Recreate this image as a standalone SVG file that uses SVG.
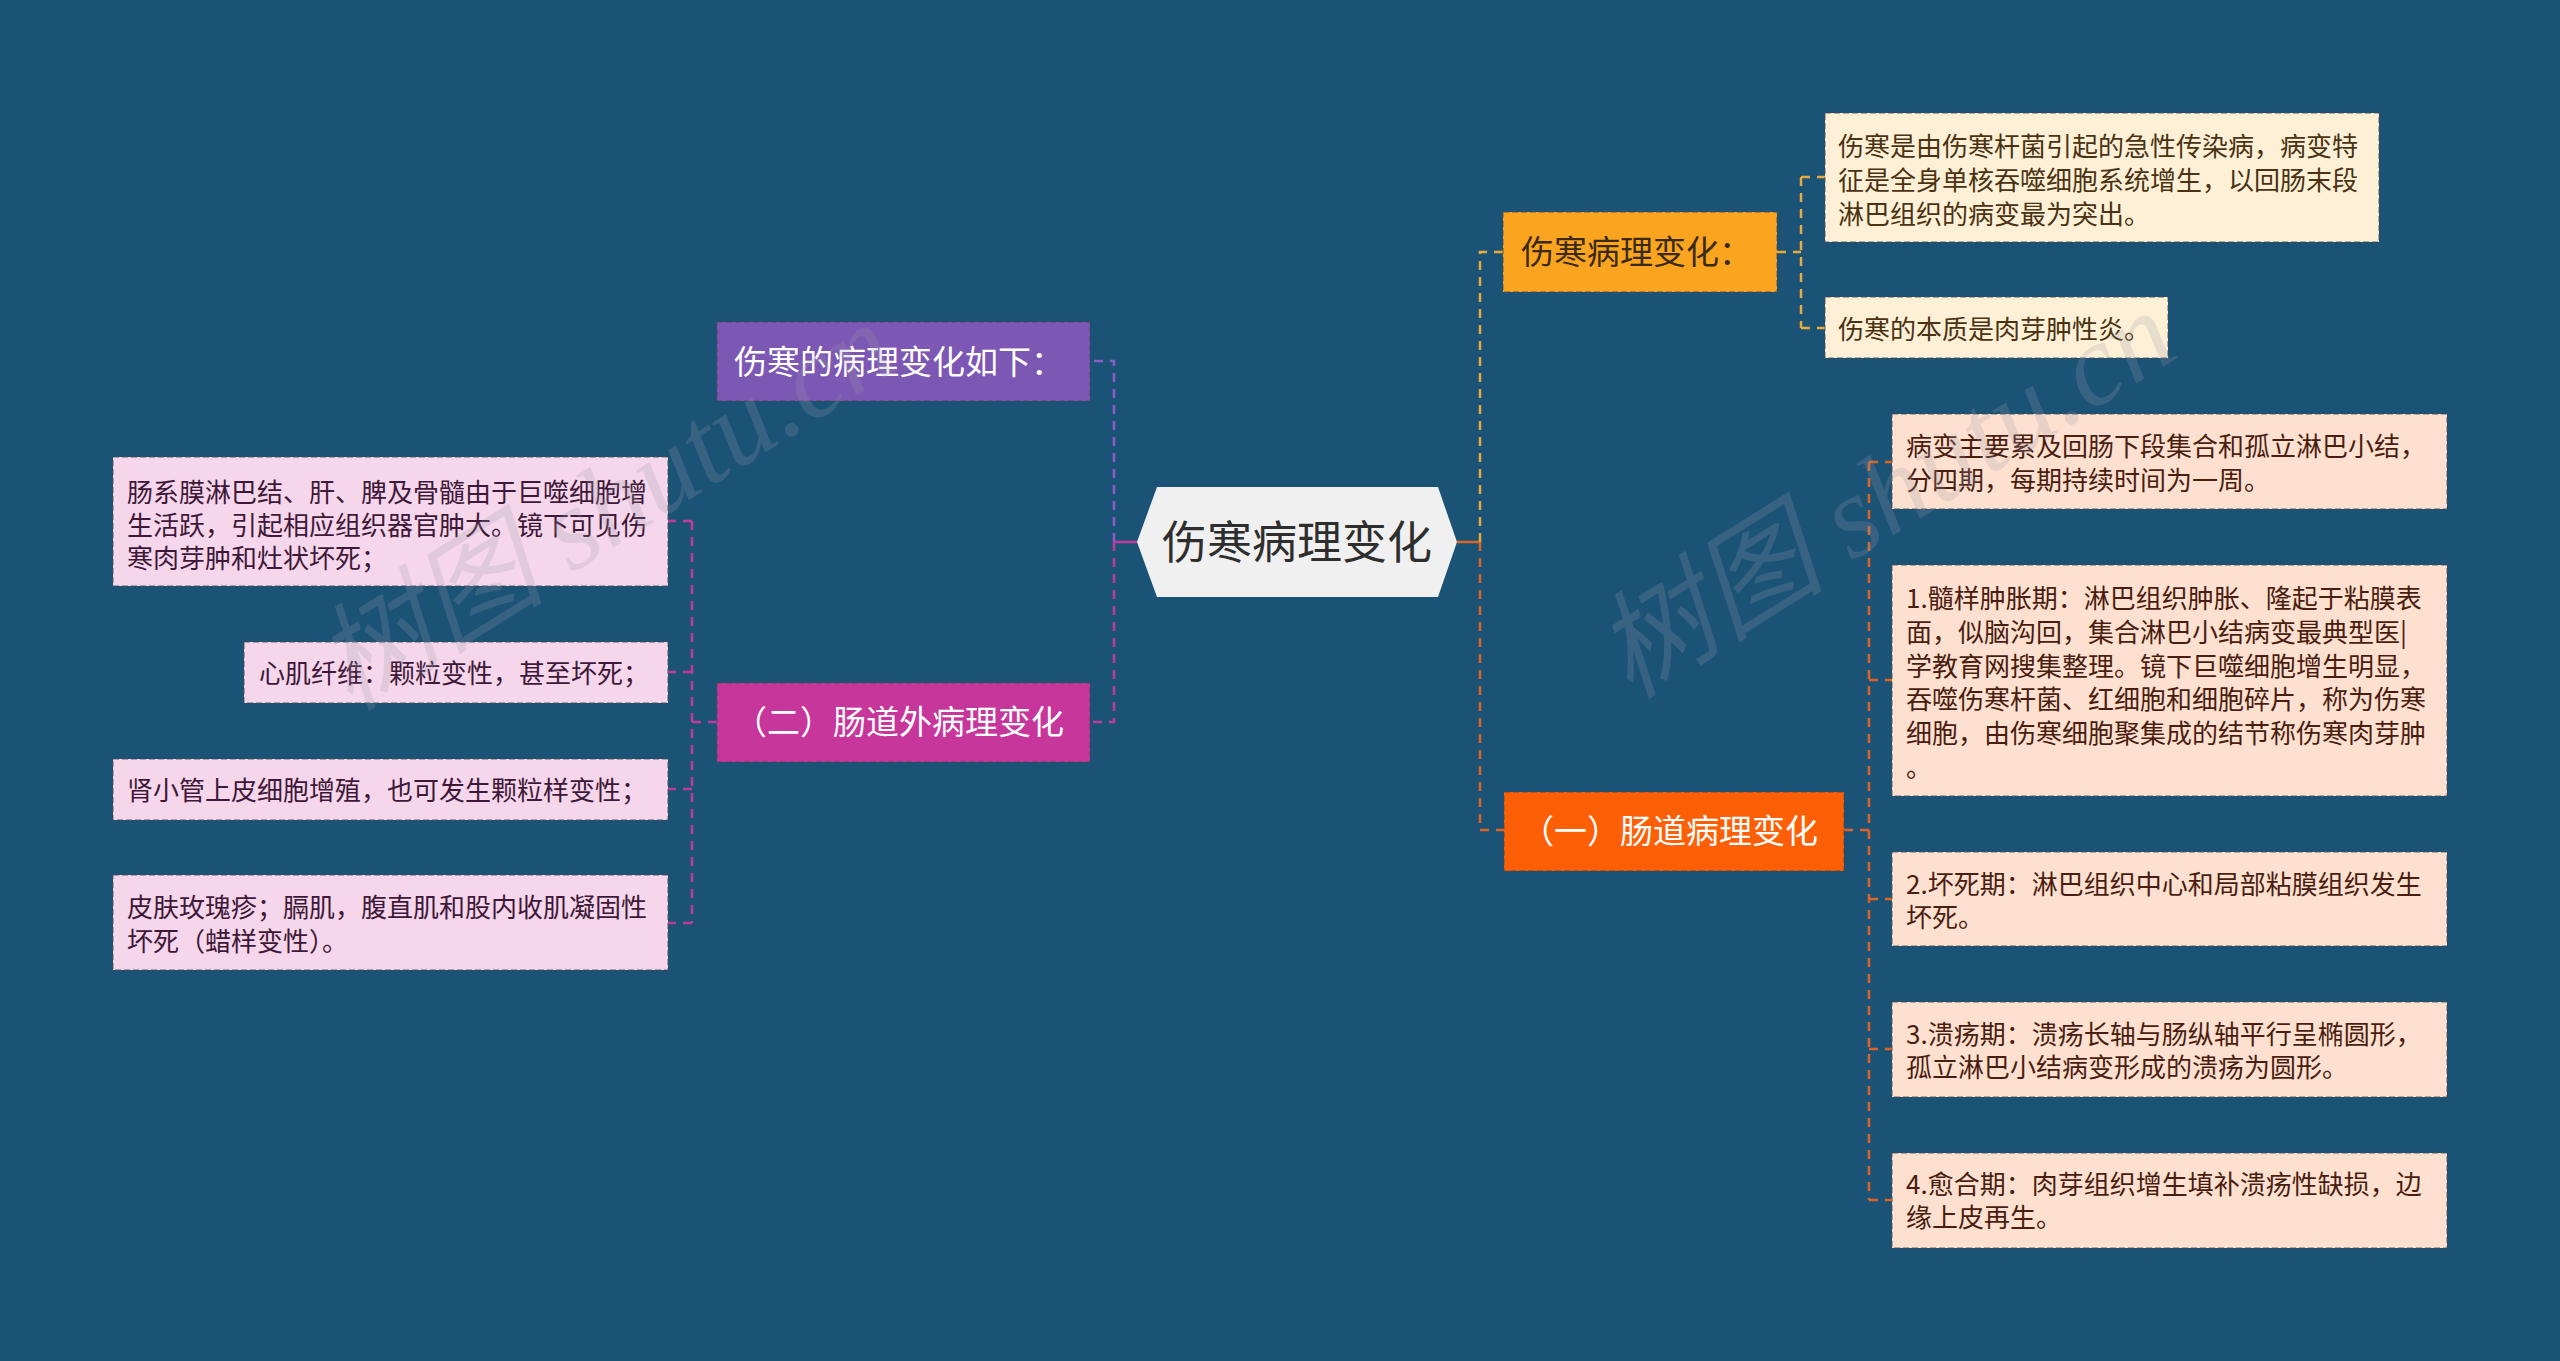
<svg xmlns="http://www.w3.org/2000/svg" width="2560" height="1361" viewBox="0 0 2560 1361">
<style>
text{font-family:"Noto Sans CJK SC","Noto Sans",sans-serif}
.bx{stroke:#4a4a4a;stroke-opacity:.55;stroke-width:1.5;stroke-dasharray:6 3}
.t{font-size:26px}
.cream{fill:#fdf0d6}
.peach{fill:#fde0cf}
.pink{fill:#f5d6eb}
.tc{fill:#4a3212}
.tp{fill:#4a1d10}
.tk{fill:#3e1838}
.sub{font-size:33px}
.c{fill:none;stroke-width:2.5;stroke-dasharray:9 7}
.y{stroke:#e6ab3a}
.o{stroke:#de6426}
.pu{stroke:#8a5ec2}
.m{stroke:#c13a9e}
.wm{font-family:"Liberation Serif","Noto Sans CJK SC",serif;font-size:116px;fill:#9a9aa8;fill-opacity:.22;font-style:italic}
</style>
<rect width="2560" height="1361" fill="#1b5377"/>

<g id="connectors">
  <path class="c o" style="stroke-dasharray:none" d="M1457 542H1480"/>
  <path class="c y" d="M1480 542V252H1503"/>
  <path class="c o" d="M1480 542V830H1504"/>
  <path class="c y" d="M1777 252H1801M1801 177V328M1801 177H1825M1801 328H1825"/>
  <path class="c o" d="M1844 830H1869M1869 462V1200M1869 462H1892M1869 680H1892M1869 899H1892M1869 1049H1892M1869 1200H1892"/>
  <path class="c m" style="stroke-dasharray:none" d="M1137 542H1114"/>
  <path class="c pu" d="M1114 542V361H1090"/>
  <path class="c m" d="M1114 542V722H1090"/>
  <path class="c m" d="M717 722H692M692 521V923M692 521H668M692 672H668M692 789H668M692 923H668"/>
</g>

<g id="center">
  <polygon points="1157,487 1438,487 1457,542 1438,597 1157,597 1137,542" fill="#f0f0f0"/>
  <text x="1297" y="559" font-size="45" fill="#2e2e2e" text-anchor="middle">伤寒病理变化</text>
</g>

<g id="n-yellow">
  <rect class="bx" x="1503" y="212" width="274" height="80" fill="#fba41f"/>
  <text class="sub" x="1521" y="264" fill="#3a2a12">伤寒病理变化：</text>
</g>
<g id="n-y1">
  <rect class="bx cream" x="1825" y="113" width="554" height="129"/>
  <text class="t tc" x="1838" y="156">伤寒是由伤寒杆菌引起的急性传染病，病变特</text>
  <text class="t tc" x="1838" y="190">征是全身单核吞噬细胞系统增生，以回肠末段</text>
  <text class="t tc" x="1838" y="224">淋巴组织的病变最为突出。</text>
</g>
<g id="n-y2">
  <rect class="bx cream" x="1825" y="297" width="343" height="61"/>
  <text class="t tc" x="1838" y="339">伤寒的本质是肉芽肿性炎。</text>
</g>

<g id="n-orange">
  <rect class="bx" x="1504" y="792" width="340" height="79" fill="#fd5f06"/>
  <text class="sub" x="1521" y="843" fill="#ffffff">（一）肠道病理变化</text>
</g>
<g id="n-o1">
  <rect class="bx peach" x="1892" y="414" width="555" height="95"/>
  <text class="t tp" x="1906" y="456">病变主要累及回肠下段集合和孤立淋巴小结，</text>
  <text class="t tp" x="1906" y="490">分四期，每期持续时间为一周。</text>
</g>
<g id="n-o2">
  <rect class="bx peach" x="1892" y="565" width="555" height="231"/>
  <text class="t tp" x="1906" y="608">1.髓样肿胀期：淋巴组织肿胀、隆起于粘膜表</text>
  <text class="t tp" x="1906" y="642">面，似脑沟回，集合淋巴小结病变最典型医|</text>
  <text class="t tp" x="1906" y="676">学教育网搜集整理。镜下巨噬细胞增生明显，</text>
  <text class="t tp" x="1906" y="709">吞噬伤寒杆菌、红细胞和细胞碎片，称为伤寒</text>
  <text class="t tp" x="1906" y="743">细胞，由伤寒细胞聚集成的结节称伤寒肉芽肿</text>
  <text class="t tp" x="1906" y="777">。</text>
</g>
<g id="n-o3">
  <rect class="bx peach" x="1892" y="852" width="555" height="94"/>
  <text class="t tp" x="1906" y="894">2.坏死期：淋巴组织中心和局部粘膜组织发生</text>
  <text class="t tp" x="1906" y="927">坏死。</text>
</g>
<g id="n-o4">
  <rect class="bx peach" x="1892" y="1002" width="555" height="95"/>
  <text class="t tp" x="1906" y="1044">3.溃疡期：溃疡长轴与肠纵轴平行呈椭圆形，</text>
  <text class="t tp" x="1906" y="1077">孤立淋巴小结病变形成的溃疡为圆形。</text>
</g>
<g id="n-o5">
  <rect class="bx peach" x="1892" y="1153" width="555" height="95"/>
  <text class="t tp" x="1906" y="1194">4.愈合期：肉芽组织增生填补溃疡性缺损，边</text>
  <text class="t tp" x="1906" y="1227">缘上皮再生。</text>
</g>

<g id="n-purple">
  <rect class="bx" x="717" y="322" width="373" height="79" fill="#7d57b4"/>
  <text class="sub" x="734" y="374" fill="#ffffff">伤寒的病理变化如下：</text>
</g>

<g id="n-magenta">
  <rect class="bx" x="717" y="683" width="373" height="79" fill="#c7369b"/>
  <text class="sub" x="734" y="734" fill="#ffffff">（二）肠道外病理变化</text>
</g>
<g id="n-m1">
  <rect class="bx pink" x="113" y="457" width="555" height="129"/>
  <text class="t tk" x="127" y="502">肠系膜淋巴结、肝、脾及骨髓由于巨噬细胞增</text>
  <text class="t tk" x="127" y="535">生活跃，引起相应组织器官肿大。镜下可见伤</text>
  <text class="t tk" x="127" y="568">寒肉芽肿和灶状坏死；</text>
</g>
<g id="n-m2">
  <rect class="bx pink" x="244" y="642" width="424" height="61"/>
  <text class="t tk" x="259" y="683">心肌纤维：颗粒变性，甚至坏死；</text>
</g>
<g id="n-m3">
  <rect class="bx pink" x="113" y="759" width="555" height="61"/>
  <text class="t tk" x="127" y="800">肾小管上皮细胞增殖，也可发生颗粒样变性；</text>
</g>
<g id="n-m4">
  <rect class="bx pink" x="113" y="875" width="555" height="95"/>
  <text class="t tk" x="127" y="917">皮肤玫瑰疹；膈肌，腹直肌和股内收肌凝固性</text>
  <text class="t tk" x="127" y="951">坏死（蜡样变性）。</text>
</g>

<text class="wm" transform="translate(350,712) rotate(-32)">树图 shutu.cn</text>
<text class="wm" transform="translate(1630,700) rotate(-32)">树图 shutu.cn</text>
</svg>
